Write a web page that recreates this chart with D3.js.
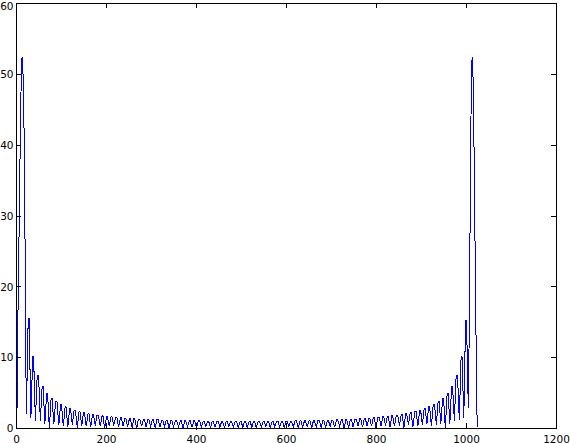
<!DOCTYPE html>
<html>
<head>
<meta charset="utf-8">
<script src="https://cdn.jsdelivr.net/npm/d3@7"></script>
<style>
  html, body { margin: 0; padding: 0; background: #fff; }
  svg { display: block; }
</style>
</head>
<body>
<div id="chart"></div>
<script>
var lineColor = "#0000ff";

/*** data (x = bin number, y = magnitude) ***/
// left main lobe, bin by bin
var mainLeftBin = [1, 2, 3, 4, 5, 6, 7, 8, 9, 10, 11, 12, 13, 14, 15, 16, 17, 18, 19, 20, 21];
var mainLeftMag = [1.8, 9, 15, 19.5, 24, 29, 34, 39, 43.5, 47.5, 50.5, 52.2, 52.4, 51, 49, 45.5, 41, 34, 26, 17, 8];

// right main lobe, bin by bin
var mainRightBin = [1005, 1006, 1007, 1008, 1009, 1010, 1011, 1012, 1013, 1014,
                    1015, 1016, 1017, 1018, 1019, 1020, 1021, 1022, 1023, 1024];
var mainRightMag = [7, 14, 21, 29, 37, 44, 49, 51.8, 52.4, 51.2,
                    48, 43.5, 38, 32, 26, 20, 14, 8.5, 2.9, 0.2];

// side lobes: bins of the dips between lobes, the dip values, and each lobe's top
var troughBin = [22, 32, 42, 53, 63, 73, 83, 94, 104, 114, 124, 135, 145, 155, 165, 175, 186, 196, 206, 216,
                 227, 237, 247, 257, 267, 278, 288, 298, 308, 319, 329, 339, 349, 360, 370, 380, 390, 400, 411, 421,
                 431, 441, 452, 462, 472, 482, 493, 503, 513, 523, 533, 544, 554, 564, 574, 585, 595, 605, 615, 626,
                 636, 646, 656, 666, 677, 687, 697, 707, 718, 728, 738, 748, 759, 769, 779, 789, 799, 810, 820, 830,
                 840, 851, 861, 871, 881, 892, 902, 912, 922, 933, 943, 953, 963, 973, 984, 994, 1004];
var troughMag = [2.1, 1.5, 1.1, 1.1, 0.7, 0.0, 0.7, 0.5, 0.3, 0.2, 0.5, 0.1, 0.4, 0.3, 0.2, 0.4, 0.3, 0.0, 0.3, 0.4,
                 0.2, 0.3, 0.2, 0.1, 0.0, 0.3, 0.2, 0.3, 0.1, 0.2, 0.3, 0.1, 0.2, 0.2, 0.1, 0.3, 0.2, 0.1, 0.2, 0.3,
                 0.1, 0.2, 0.2, 0.1, 0.3, 0.2, 0.1, 0.2, 0.1, 0.2, 0.1, 0.2, 0.3, 0.1, 0.2, 0.2, 0.1, 0.3, 0.2, 0.1,
                 0.2, 0.3, 0.1, 0.2, 0.2, 0.1, 0.3, 0.2, 0.3, 0.0, 0.1, 0.2, 0.3, 0.2, 0.4, 0.3, 0.0, 0.3, 0.4, 0.2,
                 0.3, 0.4, 0.1, 0.5, 0.2, 0.3, 0.5, 0.7, 0.3, 0.5, 0.7, 0.0, 0.7, 1.1, 1.2, 1.5, 2.9];
var lobePeak = [15.5, 10.1, 7.5, 6.0, 5.0, 4.3, 3.8, 3.4, 3.05, 2.8, 2.6, 2.4, 2.25, 2.1, 2.0, 1.9, 1.8, 1.72, 1.65, 1.58,
                1.52, 1.47, 1.42, 1.38, 1.34, 1.3, 1.27, 1.24, 1.21, 1.19, 1.16, 1.14, 1.12, 1.11, 1.09, 1.08, 1.07, 1.06,
                1.05, 1.04, 1.03, 1.02, 1.02, 1.01, 1.01, 1.0, 1.0, 1.0,
                1.0, 1.0, 1.0, 1.01, 1.01, 1.02, 1.02, 1.03, 1.04, 1.05, 1.06, 1.07, 1.08, 1.09, 1.11, 1.12, 1.14, 1.16,
                1.19, 1.21, 1.24, 1.27, 1.3, 1.34, 1.38, 1.42, 1.47, 1.52, 1.58, 1.65, 1.72, 1.8, 1.9, 2.0, 2.1, 2.25,
                2.4, 2.6, 2.8, 3.05, 3.4, 3.8, 4.3, 5.0, 6.0, 7.5, 10.1, 15.3];

var xTicks = [0, 200, 400, 600, 800, 1000, 1200];
var yTicks = [0, 10, 20, 30, 40, 50, 60];

/*** layout ***/
var W = 570, H = 443;
var plot = {left: 16, right: 556, top: 3, bottom: 428};

var x = d3.scaleLinear().domain([0, 1200]).range([plot.left, plot.right]);
var y = d3.scaleLinear().domain([0, 60]).range([plot.bottom, plot.top]);

var svg = d3.select("#chart").append("svg").attr("width", W).attr("height", H);
svg.append("rect").attr("width", W).attr("height", H).attr("fill", "#fff");

// put the trace together: left lobe, side lobes with a short crest, right lobe
var pts = [];
for (var i = 0; i < mainLeftBin.length; i++) {
  pts.push([mainLeftBin[i], mainLeftMag[i]]);
}
for (var j = 0; j < lobePeak.length; j++) {
  pts.push([troughBin[j], troughMag[j]]);
  pts.push([troughBin[j] + 4, lobePeak[j]]);
  pts.push([troughBin[j + 1] - 4, lobePeak[j]]);
}
pts.push([troughBin[troughBin.length - 1], troughMag[troughMag.length - 1]]);
for (var k = 0; k < mainRightBin.length; k++) {
  pts.push([mainRightBin[k], mainRightMag[k]]);
}

var line = d3.line()
  .x(function(d) { return x(d[0]) + 0.5; })
  .y(function(d) { return y(d[1]) + 0.5; });

svg.append("path")
  .datum(pts)
  .attr("d", line)
  .attr("fill", "none")
  .attr("stroke", lineColor)
  .attr("stroke-width", 1)
  .attr("shape-rendering", "crispEdges");

/*** axes, ticks pointing inward on all four sides ***/
function styleAxis(g) {
  g.select(".domain").remove();
  g.selectAll(".tick line").attr("stroke", "#000").attr("shape-rendering", "crispEdges");
  g.selectAll("text")
    .attr("fill", "#000")
    .style("font-family", "'DejaVu Sans', sans-serif")
    .style("font-size", "10.5px");
}

var fmt = d3.format("d");

svg.append("g")
  .attr("transform", "translate(0," + plot.bottom + ")")
  .call(d3.axisBottom(x).tickValues(xTicks).tickFormat(fmt).tickSizeInner(-5).tickSizeOuter(0))
  .call(styleAxis)
  .selectAll("text").attr("y", 14.5).attr("dy", null);

svg.append("g")
  .attr("transform", "translate(" + plot.left + ",0)")
  .call(d3.axisLeft(y).tickValues(yTicks).tickFormat(fmt).tickSizeInner(-5).tickSizeOuter(0).tickPadding(2.5))
  .call(styleAxis)
  .selectAll("text")
  .attr("dy", "0.36em")
  // the top label sits against the window edge, nudge it just inside
  .attr("y", function(d) { return d === 60 ? 2.5 : 0; });

svg.append("g")
  .attr("transform", "translate(0," + plot.top + ")")
  .call(d3.axisTop(x).tickValues(xTicks).tickSizeInner(-5).tickSizeOuter(0).tickFormat(""))
  .call(styleAxis);

svg.append("g")
  .attr("transform", "translate(" + plot.right + ",0)")
  .call(d3.axisRight(y).tickValues(yTicks).tickSizeInner(-5).tickSizeOuter(0).tickFormat(""))
  .call(styleAxis);

// plot box
svg.append("rect")
  .attr("x", plot.left + 0.5)
  .attr("y", plot.top + 0.5)
  .attr("width", plot.right - plot.left)
  .attr("height", plot.bottom - plot.top)
  .attr("fill", "none")
  .attr("stroke", "#000")
  .attr("shape-rendering", "crispEdges");
</script>
</body>
</html>
